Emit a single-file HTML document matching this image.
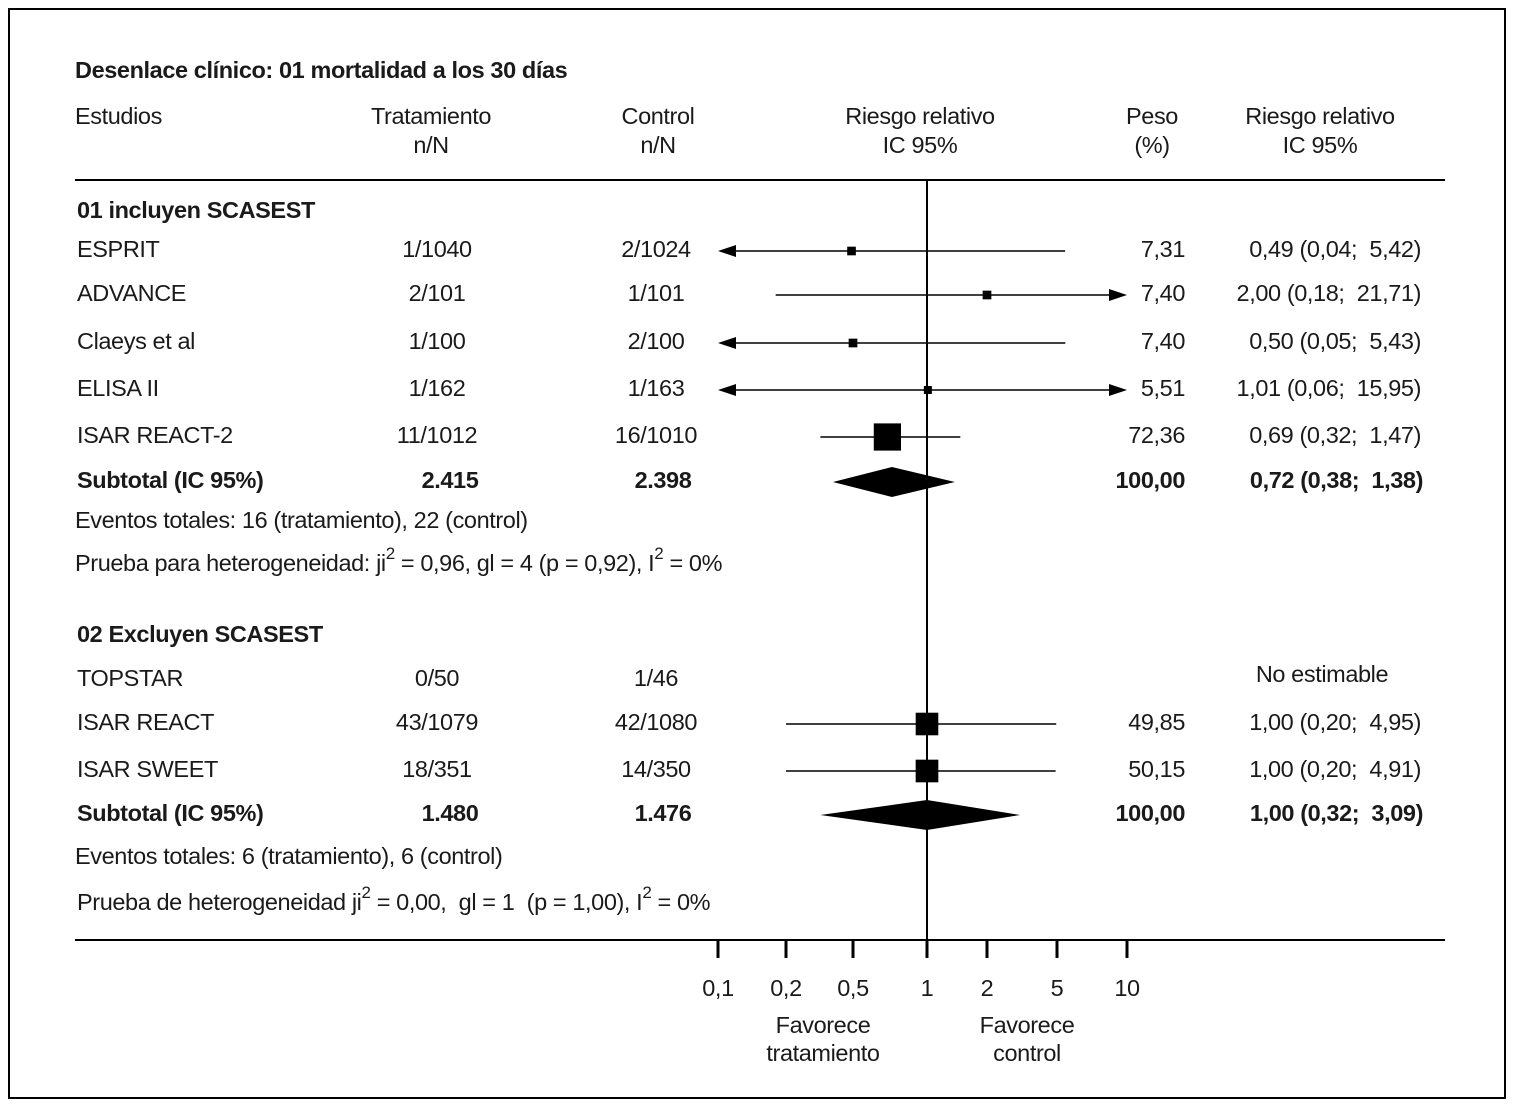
<!DOCTYPE html>
<html><head><meta charset="utf-8">
<style>
html,body{margin:0;padding:0;background:#fff;}
svg{display:block;}
text{font-family:"Liberation Sans Narrow","Liberation Sans",sans-serif;font-size:23.5px;fill:#1a1a1a;dominant-baseline:middle;letter-spacing:-0.4px;white-space:pre;}
.b{font-weight:bold;}
</style></head>
<body>
<svg id="chart" width="1514" height="1107" viewBox="0 0 1514 1107">
<rect x="9" y="9" width="1496" height="1089" fill="none" stroke="#000" stroke-width="2"/>
<text x="75" y="72" class="b">Desenlace clínico: 01 mortalidad a los 30 días</text>
<text x="75" y="118">Estudios</text>
<text x="431" y="118" text-anchor="middle">Tratamiento</text>
<text x="431" y="147" text-anchor="middle">n/N</text>
<text x="658" y="118" text-anchor="middle">Control</text>
<text x="658" y="147" text-anchor="middle">n/N</text>
<text x="920" y="118" text-anchor="middle">Riesgo relativo</text>
<text x="920" y="147" text-anchor="middle">IC 95%</text>
<text x="1152" y="118" text-anchor="middle">Peso</text>
<text x="1152" y="147" text-anchor="middle">(%)</text>
<text x="1320" y="118" text-anchor="middle">Riesgo relativo</text>
<text x="1320" y="147" text-anchor="middle">IC 95%</text>
<line x1="75" y1="180" x2="1445" y2="180" stroke="#000" stroke-width="2"/>
<line x1="75" y1="940" x2="1445" y2="940" stroke="#000" stroke-width="2"/>
<line x1="927" y1="180" x2="927" y2="958" stroke="#000" stroke-width="2"/>
<text x="77" y="212" class="b">01 incluyen SCASEST</text>
<text x="77" y="636" class="b">02 Excluyen SCASEST</text>
<text x="75" y="522">Eventos totales: 16 (tratamiento), 22 (control)</text>
<text x="75" y="565">Prueba para heterogeneidad: ji<tspan dy="-10" font-size="17">2</tspan><tspan dy="10"> = 0,96, gl = 4 (p = 0,92), I</tspan><tspan dy="-10" font-size="17">2</tspan><tspan dy="10"> = 0%</tspan></text>
<text x="75" y="858">Eventos totales: 6 (tratamiento), 6 (control)</text>
<text x="77" y="904">Prueba de heterogeneidad ji<tspan dy="-10" font-size="17">2</tspan><tspan dy="10"> = 0,00,  gl = 1  (p = 1,00), I</tspan><tspan dy="-10" font-size="17">2</tspan><tspan dy="10"> = 0%</tspan></text>
<text x="1322" y="676" text-anchor="middle">No estimable</text>
<text x="823" y="1027" text-anchor="middle">Favorece</text>
<text x="823" y="1055" text-anchor="middle">tratamiento</text>
<text x="1027" y="1027" text-anchor="middle">Favorece</text>
<text x="1027" y="1055" text-anchor="middle">control</text>
<g id="marks"></g>
</svg>
<script>
const tickValues=[0.1,0.2,0.5,1,2,5,10];
const tickLabels=["0,1","0,2","0,5","1","2","5","10"];
const studyNames=["ESPRIT","ADVANCE","Claeys et al","ELISA II","ISAR REACT-2","TOPSTAR","ISAR REACT","ISAR SWEET"];
const treatN=["1/1040","2/101","1/100","1/162","11/1012","0/50","43/1079","18/351"];
const ctrlN=["2/1024","1/101","2/100","1/163","16/1010","1/46","42/1080","14/350"];
const rr=[0.49,2.00,0.50,1.01,0.69,null,1.00,1.00];
const lo=[0.04,0.18,0.05,0.06,0.32,null,0.20,0.20];
const hi=[5.42,21.71,5.43,15.95,1.47,null,4.95,4.91];
const weights=[7.31,7.40,7.40,5.51,72.36,null,49.85,50.15];
const weightText=["7,31","7,40","7,40","5,51","72,36","","49,85","50,15"];
const ciText=["0,49 (0,04;  5,42)","2,00 (0,18;  21,71)","0,50 (0,05;  5,43)","1,01 (0,06;  15,95)","0,69 (0,32;  1,47)","","1,00 (0,20;  4,95)","1,00 (0,20;  4,91)"];
const subRR=[0.72,1.00], subLo=[0.38,0.32], subHi=[1.38,3.09];
const subTreat=["2.415","1.480"], subCtrl=["2.398","1.476"], subCI=["0,72 (0,38;  1,38)","1,00 (0,32;  3,09)"];

const rowY=[251,295,343,390,437,680,724,771];
const subY=[482,815];
const tickPx=[718,786,853,927,987,1057,1127];
function xs(v){
  const lv=Math.log10(v), lt=tickValues.map(Math.log10);
  if(lv<=lt[0]) return tickPx[0]+(lv-lt[0])*(tickPx[1]-tickPx[0])/(lt[1]-lt[0]);
  for(let i=0;i<lt.length-1;i++){
    if(lv<=lt[i+1]) return tickPx[i]+(lv-lt[i])/(lt[i+1]-lt[i])*(tickPx[i+1]-tickPx[i]);
  }
  const n=lt.length-1;
  return tickPx[n]+(lv-lt[n])*(tickPx[n]-tickPx[n-1])/(lt[n]-lt[n-1]);
}
const NS="http://www.w3.org/2000/svg";
const g=document.getElementById('marks');
function mk(tag,attrs,txt){const e=document.createElementNS(NS,tag);for(const k in attrs)e.setAttribute(k,attrs[k]);if(txt!==undefined)e.textContent=txt;g.appendChild(e);return e;}
function txt(x,y,s,anchor,bold){return mk('text',{x:x,y:y,'text-anchor':anchor,'class':bold?'b':''},s);}
tickValues.forEach((v,i)=>{
  const l=mk('line',{x1:xs(v),x2:xs(v),y1:940,y2:958,stroke:'#000','stroke-width':3});
  
  
  const t=txt(xs(v),990,tickLabels[i],'middle',false);
  
  
});
const minX=xs(0.1), maxX=xs(10)-7;
studyNames.forEach((nm,i)=>{
  const y=rowY[i];
  const a=txt(77,y,nm,'start',false);
  
  
  const b=txt(437,y,treatN[i],'middle',false);
  
  
  const c=txt(656,y,ctrlN[i],'middle',false);
  
  
  if(rr[i]==null) return;
  const w=txt(1185,y,weightText[i],'end',false);
  
  
  const ci=txt(1421,y,ciText[i],'end',false);
  
  
  let x1=xs(lo[i]), x2=xs(hi[i]);
  const la=x1<minX, ra=x2>maxX;
  if(la) x1=minX; if(ra) x2=maxX+7;
  const ln=mk('line',{x1:la?x1+10:x1,x2:ra?x2-10:x2,y1:y,y2:y,stroke:'#000','stroke-width':1.5});
  
  
  if(la){const p=mk('polygon',{points:`${x1},${y} ${x1+18},${y-6} ${x1+18},${y+6}`,fill:'#000'});
    
    }
  if(ra){const p=mk('polygon',{points:`${x2},${y} ${x2-18},${y-6} ${x2-18},${y+6}`,fill:'#000'});
    
    }
  const s=Math.max(8,Math.sqrt(weights[i])*3.2);
  const sq=mk('rect',{x:xs(rr[i])-s/2,y:y-s/2,width:s,height:s,fill:'#000'});
  
  
});
subRR.forEach((v,i)=>{
  const y=subY[i];
  const a=txt(77,y,'Subtotal (IC 95%)','start',true);
  
  
  const b=txt(450,y,subTreat[i],'middle',true);
  
  
  const c=txt(663,y,subCtrl[i],'middle',true);
  
  
  const w=txt(1185,y,'100,00','end',true);
  
  
  const ci=txt(1423,y,subCI[i],'end',true);
  
  
  const d=mk('polygon',{points:`${xs(subLo[i])},${y} ${xs(v)},${y-15} ${xs(subHi[i])},${y} ${xs(v)},${y+15}`,fill:'#000'});
  
  
});
</script>
</body></html>
